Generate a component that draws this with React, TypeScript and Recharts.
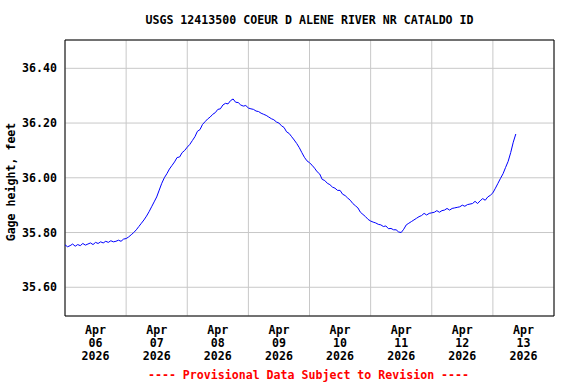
import React from 'react';
import { LineChart, Line, XAxis, YAxis, CartesianGrid, ReferenceArea } from 'recharts';

// Hours since Apr 06 2026 00:00
const hours = [
  0, 1, 2, 3, 4, 5, 6, 7, 8, 9, 10, 11, 12, 13, 14, 15, 16, 17, 18, 19, 20, 21, 22, 23,
  24, 25, 26, 27, 28, 29, 30, 31, 32, 33, 34, 35, 36, 37, 38, 39, 40, 41, 42, 43, 44, 45, 46, 47,
  48, 49, 50, 51, 52, 53, 54, 55, 56, 57, 58, 59, 60, 61, 62, 63, 64, 65, 66, 67, 68, 69, 70, 71,
  72, 73, 74, 75, 76, 77, 78, 79, 80, 81, 82, 83, 84, 85, 86, 87, 88, 89, 90, 91, 92, 93, 94, 95,
  96, 97, 98, 99, 100, 101, 102, 103, 104, 105, 106, 107, 108, 109, 110, 111, 112, 113, 114, 115, 116, 117, 118, 119,
  120, 121, 122, 123, 124, 125, 126, 127, 128, 129, 130, 131, 132, 133, 134, 135, 136, 137, 138, 139, 140, 141, 142, 143,
  144, 145, 146, 147, 148, 149, 150, 151, 152, 153, 154, 155, 156, 157, 158, 159, 160, 161, 162, 163, 164, 165, 166, 167,
  168, 169, 170, 171, 172, 173, 174, 175, 176, 177,
];

// Gage height, feet
const gage = [
  35.755, 35.748, 35.752, 35.758, 35.750, 35.756, 35.752, 35.760, 35.754, 35.758, 35.762, 35.756,
  35.764, 35.760, 35.766, 35.762, 35.768, 35.764, 35.770, 35.766, 35.768, 35.772, 35.768, 35.776,
  35.778, 35.784, 35.792, 35.800, 35.810, 35.822, 35.834, 35.846, 35.860, 35.876, 35.894, 35.912,
  35.930, 35.955, 35.980, 36.000, 36.015, 36.032, 36.045, 36.058, 36.074, 36.076, 36.092, 36.100,
  36.112, 36.122, 36.136, 36.150, 36.170, 36.176, 36.195, 36.205, 36.215, 36.222, 36.232, 36.238,
  36.250, 36.252, 36.266, 36.272, 36.270, 36.282, 36.288, 36.276, 36.275, 36.266, 36.262, 36.264,
  36.255, 36.252, 36.250, 36.244, 36.242, 36.236, 36.232, 36.228, 36.222, 36.216, 36.212, 36.204,
  36.200, 36.190, 36.184, 36.168, 36.162, 36.150, 36.138, 36.125, 36.110, 36.092, 36.075, 36.062,
  36.055, 36.046, 36.035, 36.022, 36.014, 35.994, 35.990, 35.980, 35.975, 35.966, 35.962, 35.954,
  35.954, 35.940, 35.935, 35.926, 35.918, 35.906, 35.898, 35.890, 35.874, 35.866, 35.858, 35.848,
  35.842, 35.838, 35.835, 35.830, 35.828, 35.822, 35.824, 35.814, 35.815, 35.810, 35.810, 35.802,
  35.800, 35.812, 35.828, 35.834, 35.840, 35.846, 35.852, 35.858, 35.862, 35.870, 35.864, 35.870,
  35.872, 35.874, 35.880, 35.874, 35.880, 35.882, 35.888, 35.882, 35.888, 35.890, 35.892, 35.894,
  35.900, 35.896, 35.902, 35.904, 35.906, 35.914, 35.906, 35.916, 35.924, 35.918, 35.930, 35.936,
  35.945, 35.962, 35.980, 35.998, 36.015, 36.038, 36.060, 36.092, 36.130, 36.160,
];

const monthLabel = 'Apr';
const yearLabel = '2026';
const dayLabels = ['06', '07', '08', '09', '10', '11', '12', '13'];
const labelTicks = [12, 36, 60, 84, 108, 132, 156, 180];
const gridTicks = [0, 24, 48, 72, 96, 120, 144, 168, 192];
const yTicks = [35.6, 35.8, 36.0, 36.2, 36.4];

const titleText = 'USGS 12413500 COEUR D ALENE RIVER NR CATALDO ID';
const yAxisTitle = 'Gage height, feet';
const footerText = '---- Provisional Data Subject to Revision ----';

const data = hours.map((h, i) => ({ t: h, v: gage[i] }));

const FONT = '"DejaVu Sans Mono", "Liberation Mono", monospace';
const FS = 11.6;

const DateTick = (props: any) => {
  const { x, y, index } = props;
  return (
    <text x={x} y={y} textAnchor="middle" fontFamily={FONT} fontSize={FS} fontWeight="bold" fill="#000">
      <tspan x={x} y={y + 10}>{monthLabel}</tspan>
      <tspan x={x} y={y + 23}>{dayLabels[index]}</tspan>
      <tspan x={x} y={y + 36}>{yearLabel}</tspan>
    </text>
  );
};

export default function App() {
  return (
    <div style={{ position: 'absolute', left: 0, top: 0, width: 576, height: 384, background: '#fff', overflow: 'hidden' }}>
      <div style={{ position: 'absolute', left: 0, top: 0 }}>
        <LineChart width={576} height={384} data={data} margin={{ top: 40, right: 22, bottom: 0, left: 0 }}>
          <XAxis
            dataKey="t"
            type="number"
            domain={[0, 192]}
            ticks={labelTicks}
            interval={0}
            allowDataOverflow
            tickLine={false}
            axisLine={false}
            height={68}
            tick={<DateTick />}
          />
          <XAxis xAxisId="grid" dataKey="t" type="number" domain={[0, 192]} ticks={gridTicks} interval={0} hide allowDataOverflow />
          <YAxis
            type="number"
            domain={[35.495, 36.5035]}
            ticks={yTicks}
            interval={0}
            allowDataOverflow
            width={65}
            tickLine={false}
            axisLine={false}
            tickFormatter={(v: number) => v.toFixed(2)}
            tick={{ fontFamily: FONT, fontSize: FS, fontWeight: 'bold', fill: '#000' }}
            tickMargin={2}
          />
          <CartesianGrid xAxisId="grid" stroke="#c8c8c8" strokeWidth={1} />
          <Line
            type="linear"
            dataKey="v"
            stroke="#0000ff"
            strokeWidth={1}
            dot={false}
            isAnimationActive={false}
          />
          <ReferenceArea x1={0} x2={192} y1={35.495} y2={36.5035} fill="none" stroke="#000" strokeWidth={1} ifOverflow="visible" />
        </LineChart>
      </div>
      <div style={{ position: 'absolute', left: 0, width: 619, top: 13, textAlign: 'center', fontFamily: FONT, fontSize: FS, fontWeight: 'bold', color: '#000', whiteSpace: 'nowrap', lineHeight: '14px' }}>
        {titleText}
      </div>
      <div style={{ position: 'absolute', left: 11, top: 182, transform: 'translate(-50%, -50%) rotate(-90deg)', fontFamily: FONT, fontSize: FS, fontWeight: 'bold', color: '#000', whiteSpace: 'nowrap', lineHeight: '14px' }}>
        {yAxisTitle}
      </div>
      <div style={{ position: 'absolute', left: 0, width: 617, top: 368, textAlign: 'center', fontFamily: FONT, fontSize: FS, fontWeight: 'bold', color: '#ff0000', whiteSpace: 'nowrap', lineHeight: '14px' }}>
        {footerText}
      </div>
    </div>
  );
}
